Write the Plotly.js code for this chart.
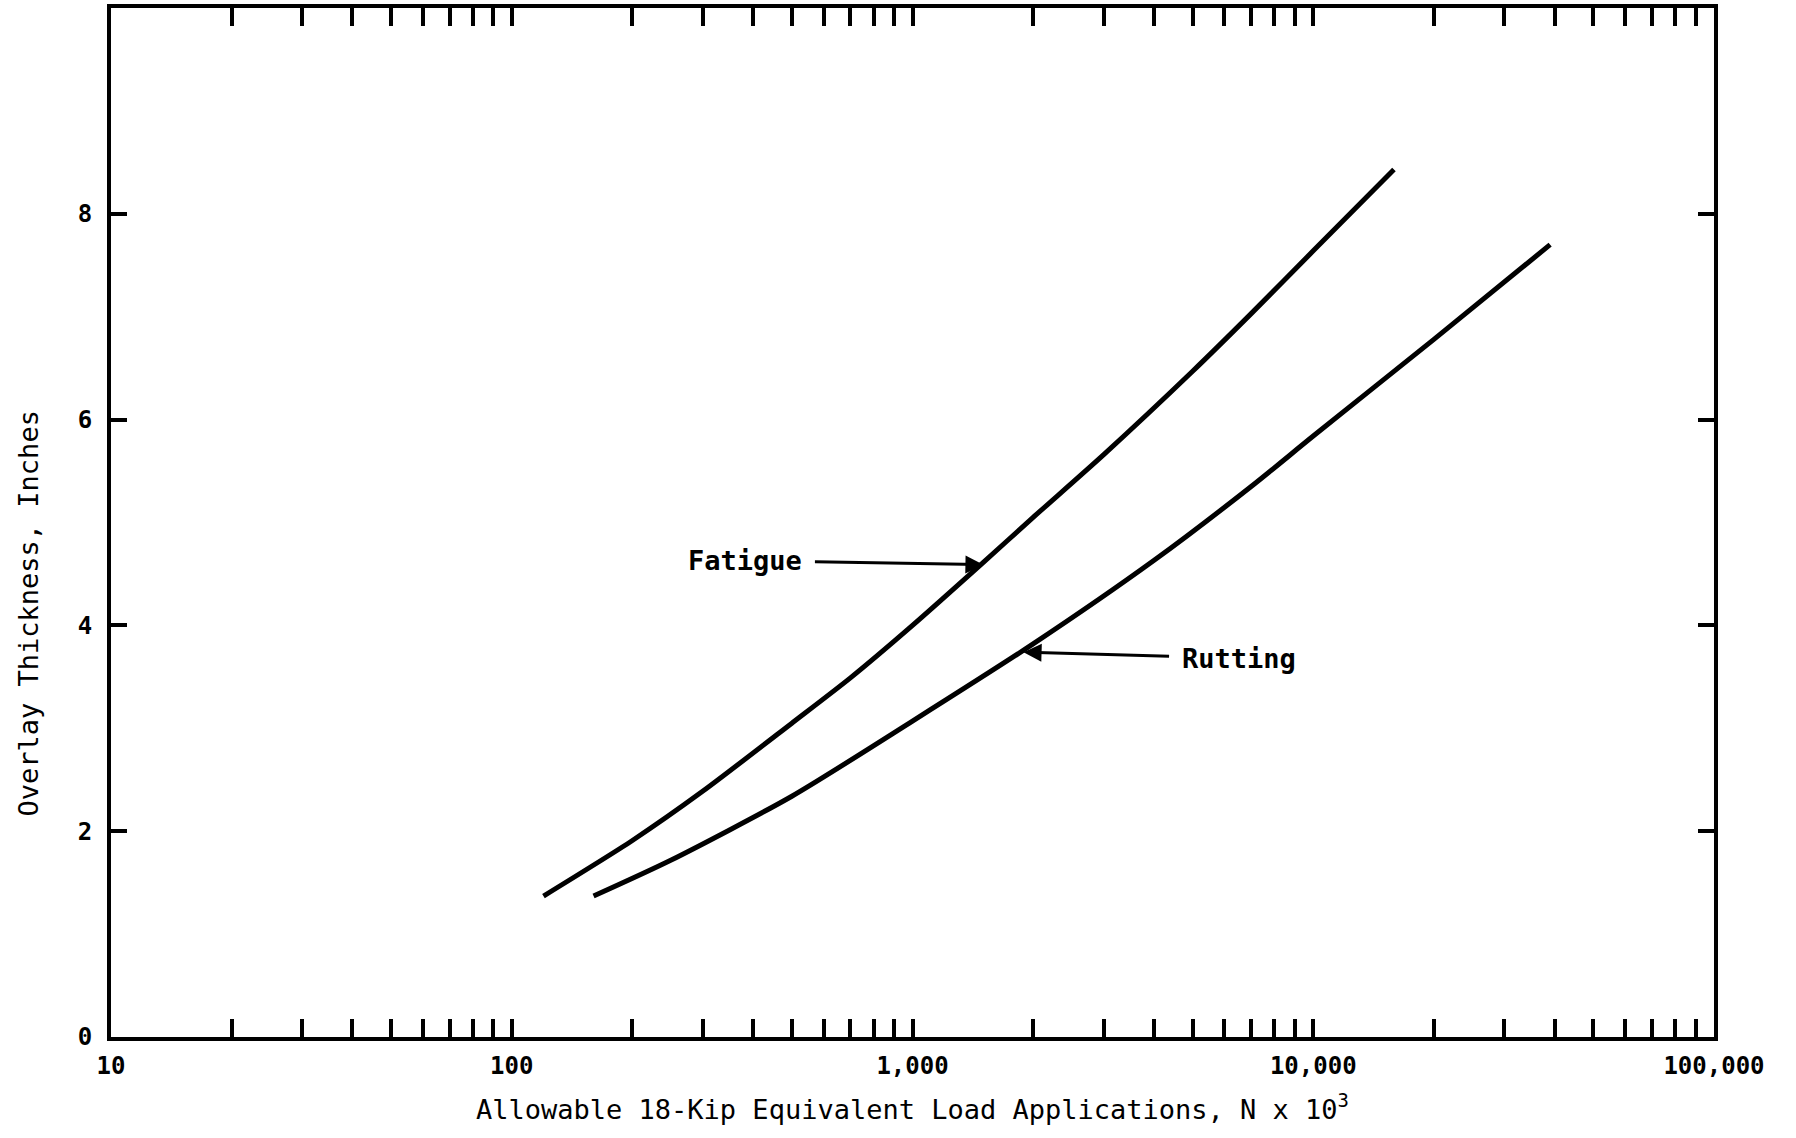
<!DOCTYPE html>
<html>
<head>
<meta charset="utf-8">
<script src="https://cdn.plot.ly/plotly-3.0.1.min.js"></script>
<style>html,body{margin:0;padding:0;background:#fff;}#chart{width:1796px;height:1138px;}</style>
</head>
<body>
<div id="chart"></div>
<script>
// ---- data ----
const fatigueN = [120, 200, 300, 500, 700, 1000, 1500, 2000, 3000, 5000, 7000, 10000, 15900];
const fatigueT = [1.37, 1.91, 2.39, 3.05, 3.49, 4.00, 4.61, 5.05, 5.66, 6.47, 7.03, 7.64, 8.43];
const ruttingN = [160, 250, 500, 1000, 2000, 4000, 7000, 10000, 20000, 39000];
const ruttingT = [1.37, 1.72, 2.34, 3.07, 3.82, 4.63, 5.35, 5.84, 6.78, 7.70];

const xTickVals = [10, 20, 30, 40, 50, 60, 70, 80, 90,
  100, 200, 300, 400, 500, 600, 700, 800, 900,
  1000, 2000, 3000, 4000, 5000, 6000, 7000, 8000, 9000,
  10000, 20000, 30000, 40000, 50000, 60000, 70000, 80000, 90000, 100000];
const xMajorVals = [10, 100, 1000, 10000, 100000];
const xMajorText = ["10", "100", "1,000", "10,000", "100,000"];
const yTickVals = [0, 2, 4, 6, 8];
const yTickText = ["0", "2", "4", "6", "8"];

const xTitle = "Allowable 18-Kip Equivalent Load Applications, N x 10<sup>3</sup>";
const yTitle = "Overlay Thickness, Inches";
const seriesNames = ["Fatigue", "Rutting"];

// ---- build ----
const xTickText = xTickVals.map(v => {
  const i = xMajorVals.indexOf(v);
  return i >= 0 ? xMajorText[i] : "";
});

const mono = "DejaVu Sans Mono, Liberation Mono, monospace";
const lineStyle = {color: "#000", width: 5, shape: "spline", smoothing: 0.7};

const traces = [
  {x: fatigueN, y: fatigueT, name: seriesNames[0], mode: "lines", line: lineStyle},
  {x: ruttingN, y: ruttingT, name: seriesNames[1], mode: "lines", line: lineStyle}
];

const L = Math.log10;
const layout = {
  width: 1796, height: 1138,
  margin: {l: 111, r: 82, t: 8, b: 101},
  paper_bgcolor: "#fff", plot_bgcolor: "#fff",
  showlegend: false,
  font: {family: mono, color: "#000", size: 24},
  xaxis: {
    type: "log", range: [1, 5],
    tickmode: "array", tickvals: xTickVals, ticktext: xTickText,
    ticks: "inside", ticklen: 18, tickwidth: 4, tickcolor: "#000",
    showline: true, linewidth: 4, linecolor: "#000", mirror: "ticks",
    showgrid: false, zeroline: false,
    tickfont: {family: mono, size: 24, weight: "bold"},
    ticklabelstandoff: 4,
    title: {text: xTitle, font: {family: mono, size: 27}, standoff: 22}
  },
  yaxis: {
    range: [0, 10],
    tickmode: "array", tickvals: yTickVals, ticktext: yTickText,
    ticks: "inside", ticklen: 16, tickwidth: 4, tickcolor: "#000",
    showline: true, linewidth: 4, linecolor: "#000", mirror: "ticks",
    showgrid: false, zeroline: false,
    tickfont: {family: mono, size: 24, weight: "bold"},
    ticklabelstandoff: 10
  },
  annotations: [
    {xref: "paper", yref: "paper", x: -0.0515, y: 0.412, text: yTitle, textangle: -90,
     showarrow: false, font: {family: mono, size: 27}, xanchor: "center", yanchor: "middle"},
    {xref: "x", yref: "y", x: L(1503), y: 4.59, text: seriesNames[0],
     showarrow: true, ax: -238, ay: -4, borderpad: 12,
     arrowhead: 2, arrowsize: 1.2, arrowwidth: 3, arrowcolor: "#000",
     font: {family: mono, size: 27, weight: "bold"}},
    {xref: "x", yref: "y", x: L(1893), y: 3.74, text: seriesNames[1],
     showarrow: true, ax: 215, ay: 6, borderpad: 12,
     arrowhead: 2, arrowsize: 1.2, arrowwidth: 3, arrowcolor: "#000",
     font: {family: mono, size: 27, weight: "bold"}}
  ]
};

Plotly.newPlot("chart", traces, layout, {displayModeBar: false, staticPlot: true});
</script>
</body>
</html>
